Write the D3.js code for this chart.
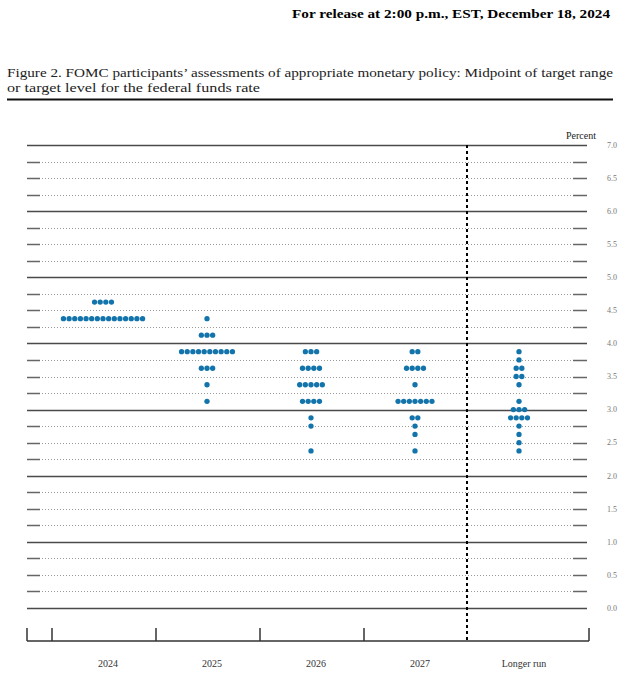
<!DOCTYPE html>
<html>
<head>
<meta charset="utf-8">
<script src="https://cdn.jsdelivr.net/npm/d3@7"></script>
<style>
  body { margin: 0; background: #fff; }
  text { font-family: "Liberation Serif", "DejaVu Serif", serif; }
</style>
</head>
<body>
<div id="chart"></div>
<script>
document.addEventListener("DOMContentLoaded", function () {
  // Data: [midpoint, number of participants]
  const categories = ["2024", "2025", "2026", "2027", "Longer run"];
  const dots2024 = [[4.625, 4], [4.375, 15]];
  const dots2025 = [[4.375, 1], [4.125, 3], [3.875, 10], [3.625, 3], [3.375, 1], [3.125, 1]];
  const dots2026 = [[3.875, 3], [3.625, 4], [3.375, 5], [3.125, 4], [2.875, 1], [2.75, 1], [2.375, 1]];
  const dots2027 = [[3.875, 2], [3.625, 4], [3.375, 1], [3.125, 7], [2.875, 2], [2.75, 1], [2.625, 1], [2.375, 1]];
  const dotsLonger = [[3.875, 1], [3.75, 1], [3.625, 2], [3.5, 2], [3.375, 1], [3.125, 1], [3.0, 3], [2.875, 4], [2.75, 1], [2.625, 1], [2.5, 1], [2.375, 1]];
  const yTicks = [7.0, 6.5, 6.0, 5.5, 5.0, 4.5, 4.0, 3.5, 3.0, 2.5, 2.0, 1.5, 1.0, 0.5, 0.0];
  const allDots = [dots2024, dots2025, dots2026, dots2027, dotsLonger];

  const W = 624, H = 675;
  const left = 27, right = 587;
  const axisY = 641;
  const dotColor = "#1274ab";
  const spacing = 5.65;

  const svg = d3.select("#chart").append("svg")
    .attr("width", W)
    .attr("height", H);

  // Header
  svg.append("text")
    .attr("x", 610)
    .attr("y", 18)
    .attr("text-anchor", "end")
    .attr("font-size", "13.5px")
    .attr("font-weight", "bold")
    .attr("textLength", 318)
    .attr("lengthAdjust", "spacingAndGlyphs")
    .text("For release at 2:00 p.m., EST, December 18, 2024");

  // Title
  svg.append("text")
    .attr("x", 7)
    .attr("y", 77)
    .attr("font-size", "13px")
    .attr("fill", "#222")
    .attr("textLength", 606)
    .attr("lengthAdjust", "spacingAndGlyphs")
    .text("Figure 2.  FOMC participants’ assessments of appropriate monetary policy:  Midpoint of target range");
  svg.append("text")
    .attr("x", 7)
    .attr("y", 92)
    .attr("font-size", "13px")
    .attr("fill", "#222")
    .attr("textLength", 253)
    .attr("lengthAdjust", "spacingAndGlyphs")
    .text("or target level for the federal funds rate");

  svg.append("line")
    .attr("x1", 7).attr("x2", 613)
    .attr("y1", 99.5).attr("y2", 99.5)
    .attr("stroke", "#111")
    .attr("stroke-width", 2);

  // Scales
  const y = d3.scaleLinear().domain([0, 7]).range([608, 145]);
  const x = d3.scaleBand().domain(categories).range([52, 572]);

  // Grid lines every 0.25
  const gridVals = d3.range(0, 7.001, 0.25);
  const grid = svg.append("g");
  gridVals.forEach(v => {
    const yy = Math.round(y(v)) + 0.5;
    if (Math.abs(v - Math.round(v)) < 1e-6) {
      grid.append("line")
        .attr("x1", left).attr("x2", right)
        .attr("y1", yy).attr("y2", yy)
        .attr("stroke", "#4a4a4a")
        .attr("stroke-width", 1.6);
    } else {
      grid.append("line")
        .attr("x1", left).attr("x2", right)
        .attr("y1", yy).attr("y2", yy)
        .attr("stroke", "#9a9a9a")
        .attr("stroke-dasharray", "1,2")
        .attr("stroke-width", 1);
      grid.append("line")
        .attr("x1", left).attr("x2", left + 13)
        .attr("y1", yy).attr("y2", yy)
        .attr("stroke", "#666")
        .attr("stroke-width", 1.5);
      grid.append("line")
        .attr("x1", right - 14).attr("x2", right)
        .attr("y1", yy).attr("y2", yy)
        .attr("stroke", "#666")
        .attr("stroke-width", 1.5);
    }
  });

  // Right-side tick labels
  svg.append("g").selectAll("text")
    .data(yTicks)
    .join("text")
    .attr("x", 612)
    .attr("y", d => y(d))
    .attr("dy", "0.35em")
    .attr("text-anchor", "middle")
    .attr("font-size", "8px")
    .attr("fill", "#777")
    .text(d => d.toFixed(1));

  svg.append("text")
    .attr("x", 596)
    .attr("y", 139)
    .attr("text-anchor", "end")
    .attr("font-size", "10px")
    .attr("fill", "#222")
    .text("Percent");

  // Bottom axis
  svg.append("line")
    .attr("x1", left).attr("x2", 589)
    .attr("y1", axisY).attr("y2", axisY)
    .attr("stroke", "#333")
    .attr("stroke-width", 1.5);

  const tickXs = [left].concat(categories.slice(0, 4).map(c => x(c))).concat([589]);
  svg.append("g").selectAll("line")
    .data(tickXs)
    .join("line")
    .attr("x1", d => d).attr("x2", d => d)
    .attr("y1", axisY - 13).attr("y2", axisY)
    .attr("stroke", "#333")
    .attr("stroke-width", 1.5);

  // Dashed separator before Longer run
  svg.append("line")
    .attr("x1", x("Longer run") - 1).attr("x2", x("Longer run") - 1)
    .attr("y1", y(7)).attr("y2", axisY)
    .attr("stroke", "#000")
    .attr("stroke-width", 2)
    .attr("stroke-dasharray", "3,3");

  // Category labels
  svg.append("g").selectAll("text")
    .data(categories)
    .join("text")
    .attr("x", d => x(d) + x.bandwidth() / 2 + 4)
    .attr("y", 667)
    .attr("text-anchor", "middle")
    .attr("font-size", "10px")
    .attr("fill", "#333")
    .text(d => d);

  // Dots
  const dots = [];
  categories.forEach((c, ci) => {
    const cx = x(c) + x.bandwidth() / 2 - 1;
    allDots[ci].forEach(([rate, n]) => {
      for (let i = 0; i < n; i++) {
        dots.push({ x: cx + (i - (n - 1) / 2) * spacing, rate: rate });
      }
    });
  });

  svg.append("g").selectAll("circle")
    .data(dots)
    .join("circle")
    .attr("cx", d => d.x)
    .attr("cy", d => y(d.rate))
    .attr("r", 2.65)
    .attr("fill", dotColor);
});
</script>
</body>
</html>
